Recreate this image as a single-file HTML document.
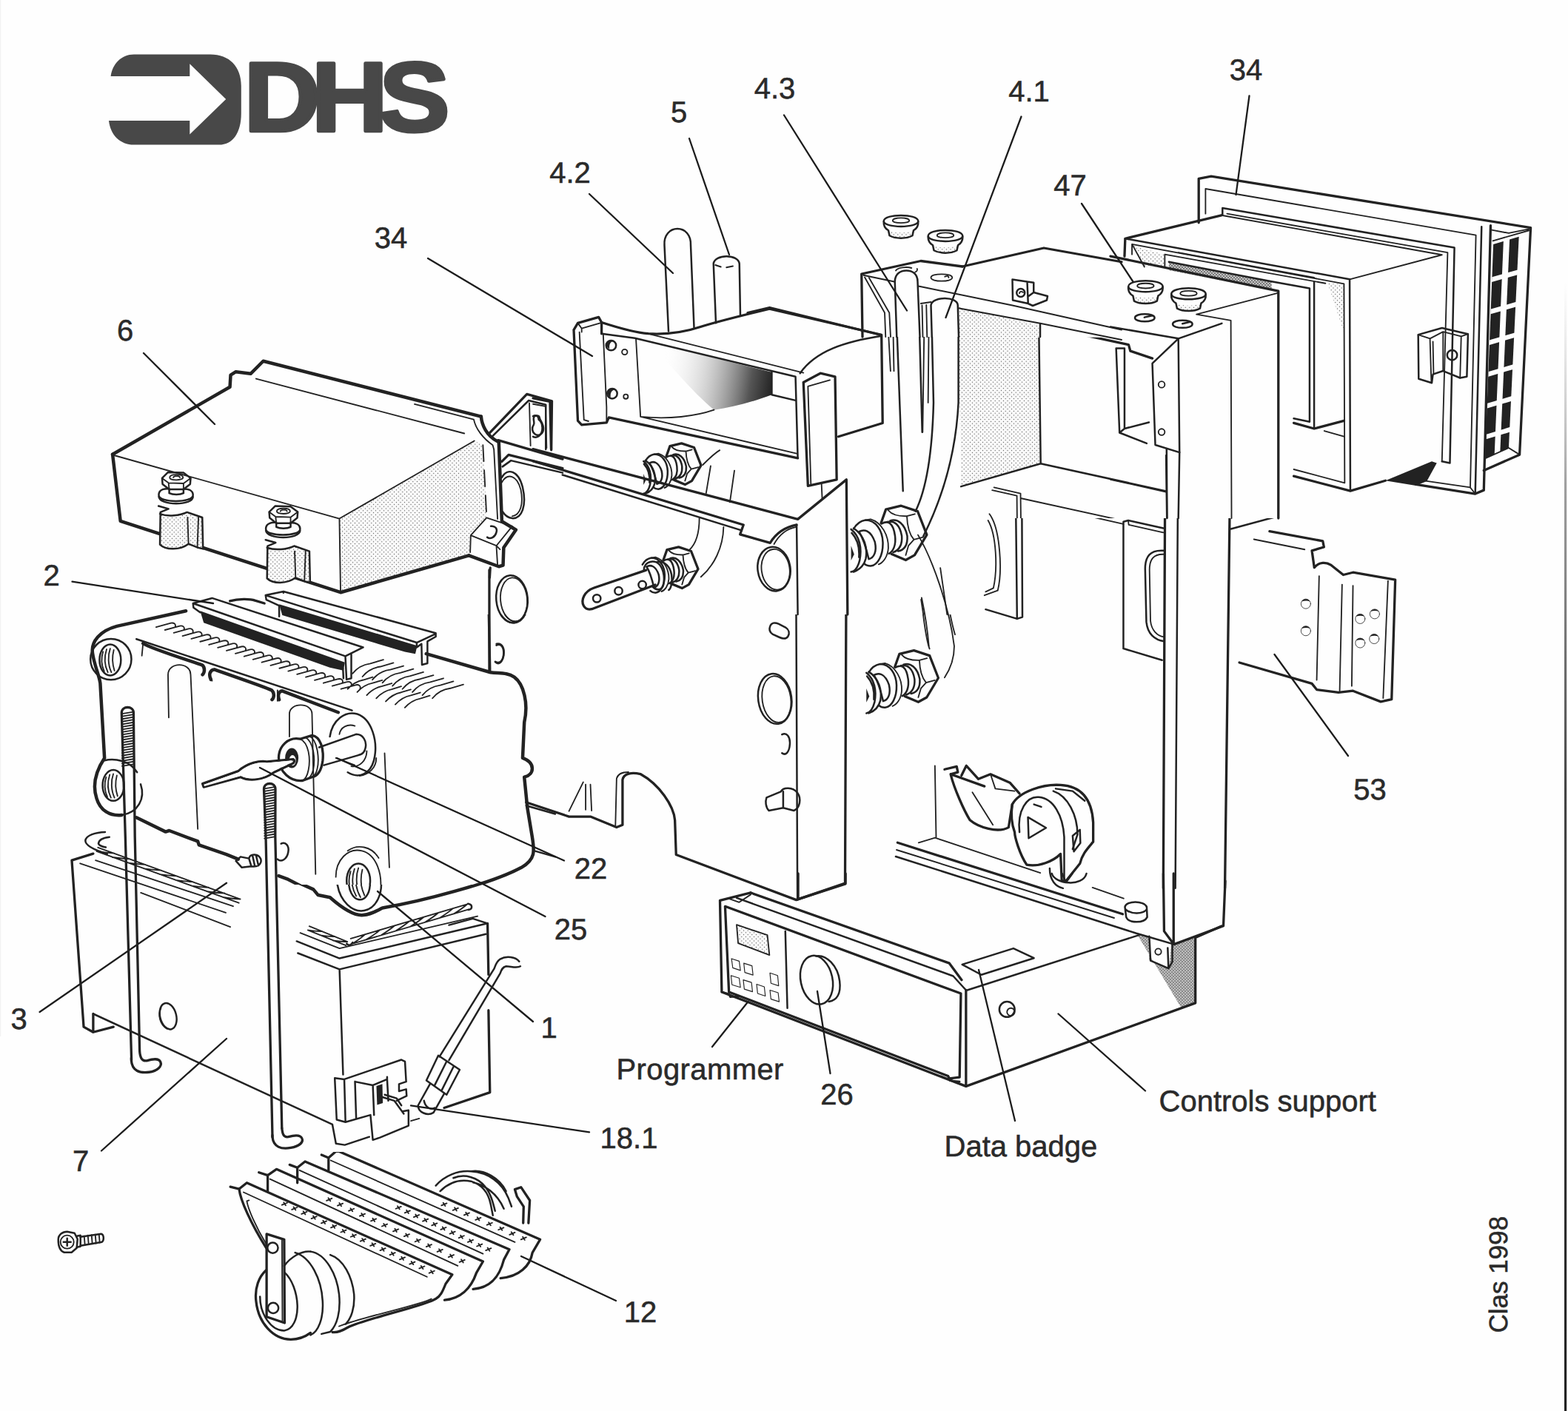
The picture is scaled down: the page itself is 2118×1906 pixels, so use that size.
<!DOCTYPE html>
<html lang="en"><head><meta charset="utf-8"><title>DHS exploded view</title>
<style>
html,body{margin:0;padding:0;background:#fefefe;}
body{width:2118px;height:1906px;overflow:hidden;position:relative;font-family:"Liberation Sans",sans-serif;}
svg{position:absolute;left:0;top:0;display:block}
.k,.kk,.m,.t,.h{fill:none;stroke:#222;stroke-linejoin:round;stroke-linecap:round;vector-effect:non-scaling-stroke}
.k{stroke-width:3.3}
.kk{stroke-width:4.5}
.m{stroke-width:2.5}
.t{stroke-width:1.85}
.h{stroke-width:1.1;stroke:#333}
.w{fill:#fefefe}
.s{fill:url(#dots)}
.s2{fill:url(#dots2)}
.b{fill:#222}
.g{fill:#555}
.ld{fill:none;stroke:#1c1c1c;stroke-width:2.3;stroke-linecap:round}
text{font-family:"Liberation Sans",sans-serif;fill:#2a2a2a;stroke:#2a2a2a;stroke-width:.55px;text-rendering:geometricPrecision}
.lb{font-size:37px;text-anchor:middle}
</style></head><body>
<svg width="2118" height="1906" viewBox="0 0 2118 1906">
<defs>
<pattern id="dots" width="5" height="5" patternUnits="userSpaceOnUse"><rect width="5" height="5" fill="#f4f4f4"/><circle cx="1.2" cy="1.2" r="0.75" fill="#555"/><circle cx="3.7" cy="3.7" r="0.75" fill="#555"/></pattern>
<pattern id="dots2" width="4" height="4" patternUnits="userSpaceOnUse"><rect width="4" height="4" fill="#e4e4e4"/><circle cx="1" cy="1" r="0.8" fill="#444"/><circle cx="3" cy="3" r="0.8" fill="#444"/></pattern>
<linearGradient id="edge" x1="0" y1="0" x2="0" y2="1"><stop offset="0" stop-color="#bbb" stop-opacity="0"/><stop offset="0.18" stop-color="#888" stop-opacity="0.8"/><stop offset="0.45" stop-color="#444"/><stop offset="1" stop-color="#222"/></linearGradient>
<pattern id="d1" width="5.6" height="5.6" patternUnits="userSpaceOnUse" patternTransform="scale(3.37)"><rect width="5.6" height="5.6" fill="#fafafa"/><circle cx="1.4" cy="1.4" r="0.62" fill="#4a4a4a"/><circle cx="4.2" cy="4.2" r="0.62" fill="#4a4a4a"/></pattern>
<pattern id="e1" width="4" height="4" patternUnits="userSpaceOnUse" patternTransform="scale(3.37)"><rect width="4" height="4" fill="#c4c4c4"/><circle cx="1" cy="1" r="0.9" fill="#555"/><circle cx="3" cy="3" r="0.9" fill="#555"/></pattern>
<clipPath id="cp1"><rect x="0" y="1556" width="2118" height="350"/></clipPath>
<pattern id="d2" width="5.6" height="5.6" patternUnits="userSpaceOnUse" patternTransform="scale(4.044)"><rect width="5.6" height="5.6" fill="#fafafa"/><circle cx="1.4" cy="1.4" r="0.62" fill="#4a4a4a"/><circle cx="4.2" cy="4.2" r="0.62" fill="#4a4a4a"/></pattern>
<pattern id="e2" width="4" height="4" patternUnits="userSpaceOnUse" patternTransform="scale(4.044)"><rect width="4" height="4" fill="#c4c4c4"/><circle cx="1" cy="1" r="0.9" fill="#555"/><circle cx="3" cy="3" r="0.9" fill="#555"/></pattern>
<pattern id="d3" width="5.6" height="5.6" patternUnits="userSpaceOnUse" patternTransform="scale(3.0636)"><rect width="5.6" height="5.6" fill="#fafafa"/><circle cx="1.4" cy="1.4" r="0.62" fill="#4a4a4a"/><circle cx="4.2" cy="4.2" r="0.62" fill="#4a4a4a"/></pattern>
<pattern id="e3" width="4" height="4" patternUnits="userSpaceOnUse" patternTransform="scale(3.0636)"><rect width="4" height="4" fill="#c4c4c4"/><circle cx="1" cy="1" r="0.9" fill="#555"/><circle cx="3" cy="3" r="0.9" fill="#555"/></pattern>
<clipPath id="cp3"><rect x="0" y="700" width="2118" height="1206"/></clipPath>
<pattern id="d4" width="5.6" height="5.6" patternUnits="userSpaceOnUse" patternTransform="scale(2.8886)"><rect width="5.6" height="5.6" fill="#fafafa"/><circle cx="1.4" cy="1.4" r="0.62" fill="#4a4a4a"/><circle cx="4.2" cy="4.2" r="0.62" fill="#4a4a4a"/></pattern>
<pattern id="e4" width="4" height="4" patternUnits="userSpaceOnUse" patternTransform="scale(2.8886)"><rect width="4" height="4" fill="#c4c4c4"/><circle cx="1" cy="1" r="0.9" fill="#555"/><circle cx="3" cy="3" r="0.9" fill="#555"/></pattern>
<pattern id="d5" width="5.6" height="5.6" patternUnits="userSpaceOnUse" patternTransform="scale(3.2718)"><rect width="5.6" height="5.6" fill="#fafafa"/><circle cx="1.4" cy="1.4" r="0.62" fill="#4a4a4a"/><circle cx="4.2" cy="4.2" r="0.62" fill="#4a4a4a"/></pattern>
<pattern id="e5" width="4" height="4" patternUnits="userSpaceOnUse" patternTransform="scale(3.2718)"><rect width="4" height="4" fill="#c4c4c4"/><circle cx="1" cy="1" r="0.9" fill="#555"/><circle cx="3" cy="3" r="0.9" fill="#555"/></pattern>
<pattern id="d6" width="5.6" height="5.6" patternUnits="userSpaceOnUse" patternTransform="scale(3.1108)"><rect width="5.6" height="5.6" fill="#fafafa"/><circle cx="1.4" cy="1.4" r="0.62" fill="#4a4a4a"/><circle cx="4.2" cy="4.2" r="0.62" fill="#4a4a4a"/></pattern>
<pattern id="e6" width="4" height="4" patternUnits="userSpaceOnUse" patternTransform="scale(3.1108)"><rect width="4" height="4" fill="#c4c4c4"/><circle cx="1" cy="1" r="0.9" fill="#555"/><circle cx="3" cy="3" r="0.9" fill="#555"/></pattern>
<clipPath id="cp6"><rect x="0" y="700" width="2118" height="495"/></clipPath>
<pattern id="d7" width="5.6" height="5.6" patternUnits="userSpaceOnUse" patternTransform="scale(3.1108)"><rect width="5.6" height="5.6" fill="#fafafa"/><circle cx="1.4" cy="1.4" r="0.62" fill="#4a4a4a"/><circle cx="4.2" cy="4.2" r="0.62" fill="#4a4a4a"/></pattern>
<pattern id="e7" width="4" height="4" patternUnits="userSpaceOnUse" patternTransform="scale(3.1108)"><rect width="4" height="4" fill="#c4c4c4"/><circle cx="1" cy="1" r="0.9" fill="#555"/><circle cx="3" cy="3" r="0.9" fill="#555"/></pattern>
<clipPath id="cp7"><rect x="0" y="830" width="2118" height="1076"/></clipPath>
<pattern id="d8" width="5.6" height="5.6" patternUnits="userSpaceOnUse" patternTransform="scale(3.1108)"><rect width="5.6" height="5.6" fill="#fafafa"/><circle cx="1.4" cy="1.4" r="0.62" fill="#4a4a4a"/><circle cx="4.2" cy="4.2" r="0.62" fill="#4a4a4a"/></pattern>
<pattern id="e8" width="4" height="4" patternUnits="userSpaceOnUse" patternTransform="scale(3.1108)"><rect width="4" height="4" fill="#c4c4c4"/><circle cx="1" cy="1" r="0.9" fill="#555"/><circle cx="3" cy="3" r="0.9" fill="#555"/></pattern>
<pattern id="d9" width="5.6" height="5.6" patternUnits="userSpaceOnUse" patternTransform="scale(6.065)"><rect width="5.6" height="5.6" fill="#fafafa"/><circle cx="1.4" cy="1.4" r="0.62" fill="#4a4a4a"/><circle cx="4.2" cy="4.2" r="0.62" fill="#4a4a4a"/></pattern>
<pattern id="e9" width="4" height="4" patternUnits="userSpaceOnUse" patternTransform="scale(6.065)"><rect width="4" height="4" fill="#c4c4c4"/><circle cx="1" cy="1" r="0.9" fill="#555"/><circle cx="3" cy="3" r="0.9" fill="#555"/></pattern>
<pattern id="d10" width="5.6" height="5.6" patternUnits="userSpaceOnUse" patternTransform="scale(4)"><rect width="5.6" height="5.6" fill="#fafafa"/><circle cx="1.4" cy="1.4" r="0.62" fill="#4a4a4a"/><circle cx="4.2" cy="4.2" r="0.62" fill="#4a4a4a"/></pattern>
<pattern id="e10" width="4" height="4" patternUnits="userSpaceOnUse" patternTransform="scale(4)"><rect width="4" height="4" fill="#c4c4c4"/><circle cx="1" cy="1" r="0.9" fill="#555"/><circle cx="3" cy="3" r="0.9" fill="#555"/></pattern>
<pattern id="d11" width="5.6" height="5.6" patternUnits="userSpaceOnUse" patternTransform="scale(4)"><rect width="5.6" height="5.6" fill="#fafafa"/><circle cx="1.4" cy="1.4" r="0.62" fill="#4a4a4a"/><circle cx="4.2" cy="4.2" r="0.62" fill="#4a4a4a"/></pattern>
<pattern id="e11" width="4" height="4" patternUnits="userSpaceOnUse" patternTransform="scale(4)"><rect width="4" height="4" fill="#c4c4c4"/><circle cx="1" cy="1" r="0.9" fill="#555"/><circle cx="3" cy="3" r="0.9" fill="#555"/></pattern>
<pattern id="d12" width="5.6" height="5.6" patternUnits="userSpaceOnUse" patternTransform="scale(3.2718)"><rect width="5.6" height="5.6" fill="#fafafa"/><circle cx="1.4" cy="1.4" r="0.62" fill="#4a4a4a"/><circle cx="4.2" cy="4.2" r="0.62" fill="#4a4a4a"/></pattern>
<pattern id="e12" width="4" height="4" patternUnits="userSpaceOnUse" patternTransform="scale(3.2718)"><rect width="4" height="4" fill="#c4c4c4"/><circle cx="1" cy="1" r="0.9" fill="#555"/><circle cx="3" cy="3" r="0.9" fill="#555"/></pattern>
<pattern id="d13" width="5.6" height="5.6" patternUnits="userSpaceOnUse" patternTransform="scale(3.1108)"><rect width="5.6" height="5.6" fill="#fafafa"/><circle cx="1.4" cy="1.4" r="0.62" fill="#4a4a4a"/><circle cx="4.2" cy="4.2" r="0.62" fill="#4a4a4a"/></pattern>
<pattern id="e13" width="4" height="4" patternUnits="userSpaceOnUse" patternTransform="scale(3.1108)"><rect width="4" height="4" fill="#c4c4c4"/><circle cx="1" cy="1" r="0.9" fill="#555"/><circle cx="3" cy="3" r="0.9" fill="#555"/></pattern>
</defs>
<!-- 00_base.svg -->
<defs>
<g id="nut">
<path class="k" d="M-33 -14.8 L-26.4 -33.4 L-5.8 -38.3 L16.5 -30.9 L28.9 0.8 L12.4 28.4 L0.4 35 L-19 26.8"/>
<path class="t" d="M-23 -32 C-19 -27 -11 -24 2 -24.3 L12.8 -27.2 M2 -24.3 C2.5 -10 6 1 11.5 7.4 L23.9 4.1 M11.5 7.4 L4.1 15.7 L0.4 28.4"/>
<path class="m" d="M-32.2 -14 C-23.9 -19 -16.5 -15.7 -14 2.5 C-12.4 14.8 -16.5 23.1 -22.3 26.4 M-24.7 -16.5 C-14.8 -19 -7.4 -12.4 -4.9 2.5 C-4.1 13.2 -8.2 21.4 -16.5 24.7 M-20.6 -18.1 C-10.7 -21.4 -0.8 -14 2.5 2.5 C3.3 14.8 -1.6 21.4 -9.9 23.1"/>
</g>
<g id="washer">
<path class="m" d="M-70 -7 C-66 -14 -60 -18 -54 -19 C-40 -19 -31 -5 -30.5 11 C-30 28 -37 42 -47 43 C-51 43 -54 41.5 -56 39.6"/>
<path class="m" d="M-62.7 -3.3 C-56 -7 -47 -6 -41.2 10.7 C-38.5 23 -42 32 -49.5 33.8 C-52 23 -56 7 -62.7 -3.3 Z"/>
<path class="t" d="M-53.6 -19 L-47 -20.2 C-32 -16 -22.5 2 -23.1 19 C-24 31 -30.5 39 -36.3 40.8"/>
</g>
<g id="spring">
<path class="m" d="M-73.4 -6.6 C-61.8 2.5 -58.5 19 -61.8 35.4 C-64.3 45.3 -68.4 50.3 -73.4 51.1 M-70 -8 C-55 2 -51 19 -53.5 33 C-56 43 -62 48 -70 51 M-72.5 -1.6 C-65 6.6 -61.8 19 -62.7 31.3"/>
<path class="b" d="M-73.4 15.7 L-69.2 27.2 L-73.4 35.4 Z"/>
</g>
<g id="bolt"><use href="#nut"/><use href="#washer"/><use href="#spring"/></g>
</defs>
<!-- right page edge line -->
<rect x="2113" y="380" width="3.2" height="1526" fill="url(#edge)"/>
<rect x="0" y="0" width="1.2" height="1400" fill="#ddd" opacity="0.35"/>
<!-- logo -->
<path fill="#484848" d="M149.6 103 C152 86 164 73.4 181 73.4 L284 73.4 C310 73.4 325.8 90 325.8 116 L325.8 153 C325.8 180 314 195.6 296 195.6 L181 195.6 C162 195.6 149 182 147 163 L256.3 163 L256.3 181.5 L305.2 133.9 L256.3 86.3 L256.3 103 Z"/>
<text transform="translate(329.5 176.6) scale(1.074 1)" x="0" y="0" style="font-size:133px;font-weight:bold;letter-spacing:-11px;fill:#484848;stroke:#484848;stroke-width:4.5px;stroke-linejoin:round">DHS</text>
<!-- vertical note -->
<text transform="translate(2036.4 1800.5) rotate(-90)" style="font-size:35px;fill:#2a2a2a">Clas 1998</text>
<!-- t_burner.svg -->
<g clip-path="url(#cp1)"><g transform="translate(280 1520) scale(0.296736)">
<!-- blades -->
<path class="k" d="M105 280 L145 290 L180 262 L1115 680 L1085 722 C1070 760 1060 780 1040 790 C1000 820 720 880 640 920 C615 935 590 945 570 942"/>
<path class="k" d="M145 290 C150 340 200 450 268 558"/>
<path class="t" d="M180 345 C185 380 220 460 268 540 M165 305 L1000 690 M180 345 L190 342"/>
<path class="k" d="M235 215 L275 228 L315 200 L1255 620 L1225 672 C1200 745 1150 790 1080 796 M275 228 L275 300"/>
<path class="t" d="M285 245 L1140 640"/>
<path class="k" d="M375 180 L410 193 L445 165 L1375 565 L1350 612 C1330 690 1290 740 1210 746 M410 193 L410 262"/>
<path class="t" d="M420 205 L1255 585"/>
<path class="k" d="M520 135 L552 148 L590 115 L1515 520 L1480 580 C1470 640 1420 690 1335 696 M552 148 L552 205"/>
<path class="t" d="M562 160 L1400 532"/>
<path class="t" d="M340 363 L364 353 M348 351 L357 365 M385 384 L409 374 M393 372 L402 386 M429 404 L453 394 M437 392 L446 406 M474 425 L498 415 M482 413 L491 427 M519 446 L543 436 M527 434 L536 448 M563 466 L587 456 M571 454 L580 468 M608 487 L632 477 M616 475 L625 489 M653 508 L677 498 M661 496 L670 510 M697 528 L721 518 M705 516 L714 530 M742 549 L766 539 M750 537 L759 551 M787 570 L811 560 M795 558 L804 572 M831 590 L855 580 M839 578 L848 592 M876 611 L900 601 M884 599 L893 613 M921 632 L945 622 M929 620 L938 634 M965 652 L989 642 M973 640 L982 654 M1010 673 L1034 663 M1018 661 L1027 675 M543 343 L567 333 M551 331 L560 345 M593 366 L617 356 M601 354 L610 368 M644 390 L668 380 M652 378 L661 392 M694 413 L718 403 M702 401 L711 415 M745 436 L769 426 M753 424 L762 438 M795 460 L819 450 M803 448 L812 462 M846 483 L870 473 M854 471 L862 485 M896 506 L920 496 M904 494 L913 508 M946 530 L970 520 M954 518 L963 532 M997 553 L1021 543 M1005 541 L1014 555 M1047 576 L1071 566 M1055 564 L1064 578 M1098 600 L1122 590 M1106 588 L1115 602 M1148 623 L1172 613 M1156 611 L1165 625 M858 380 L882 370 M866 368 L875 382 M899 399 L923 389 M907 387 L916 401 M940 418 L964 408 M948 406 L957 420 M981 437 L1005 427 M989 425 L998 439 M1022 456 L1046 446 M1030 444 L1039 458 M1063 475 L1087 465 M1071 463 L1080 477 M1104 494 L1128 484 M1112 482 L1121 496 M1145 513 L1169 503 M1153 501 L1162 515 M1186 532 L1210 522 M1194 520 L1203 534 M1227 551 L1251 541 M1235 539 L1244 553 M1268 570 L1292 560 M1276 558 L1285 572 M1066 365 L1090 355 M1074 353 L1083 367 M1118 387 L1142 377 M1126 375 L1135 389 M1169 409 L1193 399 M1177 397 L1186 411 M1221 431 L1245 421 M1229 419 L1238 433 M1273 454 L1297 444 M1281 442 L1290 456 M1325 476 L1349 466 M1333 464 L1342 478 M1376 498 L1400 488 M1384 486 L1393 500 M1428 520 L1452 510 M1436 508 L1445 522"/>
<path class="t" d="M600 915 C680 880 980 815 1020 790"/>
<!-- front venturi -->
<path class="k" d="M268 660 C235 690 215 740 222 800 C232 900 300 975 380 975 C420 975 450 960 470 945"/>
<path class="m" d="M350 640 C380 600 430 570 470 575 M240 780 C240 860 290 935 350 935 C390 930 412 880 410 820 C408 760 385 700 352 670"/>
<path class="m" d="M400 580 C470 600 520 700 525 800 C530 880 505 940 470 955 M470 575 C540 585 590 680 600 770 C608 850 590 910 560 940 L520 950 M560 590 C620 610 660 690 668 770 C672 830 655 880 630 905"/>
<path class="k" d="M270 495 L350 520 L352 900 L270 872 Z"/>
<path class="t" d="M340 525 L342 890"/>
<circle class="m" cx="298" cy="558" r="24"/><circle class="m" cx="300" cy="832" r="24"/>
<!-- back venturi -->
<path class="m" d="M1040 275 C1080 230 1140 205 1200 210 C1280 215 1340 260 1370 330 L1385 370 M1060 300 C1100 260 1150 245 1200 255 C1250 270 1280 310 1290 360 L1300 410 M1120 240 C1170 220 1230 235 1265 280 C1290 310 1300 350 1310 390 M1200 210 C1260 200 1330 240 1360 300 M1210 260 C1260 270 1320 310 1350 380"/>
<path class="k" d="M1400 292 L1428 282 L1468 342 L1462 445 M1400 292 L1410 325 L1440 370 L1438 445"/>
<!-- bracket/rod bottoms at top-left -->
</g></g>
<path class="ld" d="M704 1697 L832 1757"/>
<text class="lb" x="865" y="1786" style="font-size:40px">12</text>
<!-- t_casing_i.svg -->
<g transform="translate(1130 400) scale(0.24728)">
<defs><clipPath id="ci222"><rect x="640" y="225" width="1400" height="988"/></clipPath></defs>
<path fill="url(#d2)" d="M665 60 L1105 160 L1115 915 L680 1040 Z"/>
<g clip-path="url(#ci222)">
<path class="m" d="M1105 160 L1115 915 L1800 1065 M680 1040 L1115 915"/>
<path class="k" d="M1105 160 L1595 265 L1605 300 L1725 340"/>
<path class="t" d="M1010 1105 L1785 1275 M850 1060 L985 1090 L990 1618 M860 1045 L1005 1078 L1012 1618"/>
<path class="t" d="M835 1190 C880 1250 900 1400 880 1560 L870 1618 M850 1215 C880 1280 885 1420 870 1540"/>
<path class="m" d="M1570 1618 L1565 1240 L1595 1225 L1780 1275 M1595 1228 L1780 1292"/>
<path class="m" d="M1685 1618 L1685 1450 C1700 1400 1740 1385 1760 1385"/>
<path class="t" d="M1700 1618 L1700 1460 C1712 1420 1740 1405 1760 1402"/>
<path class="m" d="M1800 870 L1810 1618"/>
</g>
</g>
<!-- t_casing_r.svg -->
<g clip-path="url(#cp3)"><g transform="translate(1240 690) scale(0.326409)">
<!-- casing right front edges -->
<path class="k" d="M1022 0 L1015 1562"/>
<path class="m" d="M1075 0 L1065 1562"/>
<path class="k" d="M1290 0 L1270 1562"/>
<!-- back wall plates -->
<path class="m" d="M405 0 L410 447 M430 0 L432 440 L410 447 L280 408"/>
<path class="t" d="M300 20 C340 80 350 250 330 330 L275 350 M290 40 C325 100 330 240 312 320 L280 335"/>
<path class="m" d="M850 570 L850 45 L870 40 L1015 72 M850 570 L1010 618"/>
<path class="t" d="M870 40 L872 58 L1015 90 M610 0 L850 55"/>
<path class="m" d="M1018 165 C960 160 940 190 940 240 L945 460 C950 510 980 535 1018 540"/>
<path class="t" d="M1018 180 C975 178 958 200 958 245 L962 455 C966 495 990 518 1018 522"/>
<!-- pipes at left -->
<path class="t" d="M0 100 C60 200 130 400 150 560 C150 620 130 660 110 690 M15 360 C30 430 40 500 45 560"/>
<!-- part 53 -->
<path class="k" d="M1455 85 L1675 125 L1680 150 L1630 165 L1640 235 C1660 210 1690 212 1710 225 L1760 265 L1800 255 L1975 285 L1960 780 L1915 790 L1800 745 L1740 752 L1650 740 L1630 715 L1330 628"/>
<path class="m" d="M1295 75 L1480 25 L1480 0"/>
<path class="t" d="M1390 118 L1600 160 M1660 270 L1650 700 M1755 305 L1745 745 M1800 310 L1795 725 M1945 290 L1925 775 M1630 165 L1680 150"/>
<g class="m"><circle cx="1605" cy="385" r="20"/><circle cx="1605" cy="497" r="20"/><circle cx="1830" cy="447" r="20"/><circle cx="1890" cy="427" r="20"/><circle cx="1830" cy="547" r="20"/><circle cx="1888" cy="530" r="20"/></g>
<g class="b"><path d="M1588 375 C1595 362 1615 362 1622 375 C1610 370 1598 372 1588 375 Z"/><path d="M1588 487 C1595 474 1615 474 1622 487 C1610 482 1598 484 1588 487 Z"/><path d="M1813 437 C1820 424 1840 424 1847 437 C1835 432 1823 434 1813 437 Z"/><path d="M1873 417 C1880 404 1900 404 1907 417 C1895 412 1883 414 1873 417 Z"/><path d="M1813 537 C1820 524 1840 524 1847 537 C1835 532 1823 534 1813 537 Z"/><path d="M1871 520 C1878 507 1898 507 1905 520 C1893 515 1881 517 1871 520 Z"/></g>
<!-- valve -->
<path class="k" d="M110 1070 L160 1058 L165 1082 L135 1090 C150 1150 190 1240 215 1280 C250 1310 330 1335 375 1310 L390 1215 M200 1055 L250 1110 L300 1090 L380 1125 L420 1170 M135 1090 L275 1140 M180 1095 L200 1055"/>
<path class="t" d="M225 1165 L310 1300 M300 1090 L320 1150 L400 1160"/>
<path class="k" d="M390 1215 C420 1160 520 1130 590 1135 C680 1140 720 1200 725 1290 L725 1370 C700 1400 680 1420 670 1460 L610 1535 L595 1530 L590 1420 C560 1450 500 1475 450 1465 C420 1420 400 1350 400 1330 C385 1290 385 1250 390 1215 Z"/>
<path class="m" d="M420 1330 C410 1240 450 1180 500 1185 C560 1190 600 1260 605 1350 L605 1530 M560 1160 C620 1180 660 1260 660 1340 L640 1400 M570 1150 L640 1160 L690 1200"/>
<path class="m" d="M455 1268 L530 1312 L458 1355 Z M640 1345 L670 1320 L672 1375 L645 1410 Z M480 1215 L510 1225"/>
<path class="m" d="M545 1480 C545 1530 570 1555 600 1562"/>
<!-- casing bottom-left inner -->
<path class="t" d="M70 1055 L75 1350"/>
</g></g>
<path class="ld" d="M1721.5 884 L1821 1021"/>
<text class="lb" x="1850.5" y="1080" style="font-size:40px">53</text>
<!-- t_controls.svg -->
<g transform="translate(950 1180) scale(0.346192)">
<!-- shaded triangle -->
<path fill="url(#e4)" d="M1693 238 L1740 245 L1740 337 L1817 371 L1826 273 L1920 251 L1920 504 L1865 524 Z"/>
<path fill="url(#d4)" d="M130 200 L250 240 L258 318 L136 272 Z"/>
<!-- fascia -->
<path class="k" d="M185 75 L65 105 L72 462 L1025 830 L1025 455"/>
<path class="k" d="M185 75 L960 350 L1008 415"/>
<path class="m" d="M130 95 L975 400 L1025 455"/>
<path class="k" d="M85 128 L1005 468 L1000 795 L960 800 L955 790 L100 462 Z"/>
<path class="m" d="M72 462 L100 470 L105 482 L140 478 M955 790 L962 808 L1000 812"/>
<path class="m" d="M320 225 L328 525"/>
<path class="t" d="M130 200 L250 240 L258 318 L136 272 Z"/>
<!-- buttons -->
<g class="k">
<path d="M110 332 L140 342 L145 378 L115 368 Z"/><path d="M158 350 L190 360 L194 396 L162 386 Z"/>
<path d="M260 388 L290 398 L294 438 L264 428 Z"/>
<path d="M108 398 L140 408 L145 444 L112 434 Z"/><path d="M156 415 L188 425 L192 461 L160 451 Z"/>
<path d="M208 432 L238 442 L242 478 L212 468 Z"/><path d="M260 455 L292 465 L296 500 L264 490 Z"/>
</g>
<!-- knob -->
<ellipse class="m" cx="442" cy="415" rx="62" ry="96" transform="rotate(-12 442 415)"/>
<path class="m" d="M440 322 C480 315 525 360 532 420 C538 470 520 495 490 500"/>
<!-- support tray -->
<path class="m" d="M1030 455 L1700 240"/>
<path class="k" d="M1025 830 L1920 505 L1920 250 L2022 205"/>
<path class="m" d="M1010 355 L1210 292 L1290 330 L1085 395 Z"/>
<circle class="m" cx="1185" cy="530" r="30"/><circle class="t" cx="1200" cy="540" r="15"/>
<path class="m" d="M1740 245 L1745 340 L1815 370 L1830 345 L1830 275 M1815 370 L1812 290"/>
<circle class="t" cx="1775" cy="305" r="12"/>
<!-- casing bottom -->
<path class="k" d="M1795 0 L1798 225 L1835 275 L1835 0"/>
<path class="m" d="M1645 130 C1650 105 1720 105 1730 130 L1732 170 C1720 195 1660 195 1650 170 Z M1648 140 C1670 160 1715 158 1730 140"/>
<!-- panel bottom corner -->
<path class="k" d="M370 0 L370 100 L555 40 L555 0"/>
<path class="t" d="M100 98 L140 112 L185 82"/>
<path class="m" d="M1360 0 C1370 40 1480 55 1495 0 M1400 0 L1415 35 L1440 0"/>
</g>
<path class="ld" d="M1010.5 1353 L962 1414"/>
<path class="ld" d="M1104 1339 L1121.5 1450"/>
<path class="ld" d="M1322 1310 L1371 1514"/>
<path class="ld" d="M1429.5 1369.5 L1547 1473.5"/>
<text class="lb" x="1130.5" y="1491.5" style="font-size:40px">26</text>
<!-- casing floor edges (global) -->
<path class="k" d="M1212.4 1138.3 L1516.5 1234.8"/>
<path class="t" d="M1211 1148 L1505 1240"/>
<path class="m" d="M1210 1157 L1535 1260.7 L1585.8 1275.6"/>
<path class="t" d="M1240.8 1138.3 L1263.1 1131.7 L1405.2 1179.1 M1475.7 1198.9 L1517.8 1213.7"/>
<path class="k" d="M1655 1190 L1652.5 1250.8 L1585.8 1275.6"/>
<!-- t_duct.svg -->
<g transform="translate(720 330) scale(0.305638)">
<defs>
<linearGradient id="dg" gradientUnits="userSpaceOnUse" x1="560" y1="560" x2="1060" y2="640"><stop offset="0" stop-color="#fff" stop-opacity="0"/><stop offset="0.45" stop-color="#aaa" stop-opacity="0.6"/><stop offset="0.8" stop-color="#555"/><stop offset="1" stop-color="#222"/></linearGradient>
<clipPath id="cl409"><rect x="1380" y="409" width="700" height="1300"/></clipPath>
</defs>
<!-- duct interior gradient -->
<path fill="url(#dg)" d="M500 428 L1055 565 L1055 665 C960 700 880 720 800 732 C700 650 600 520 500 428 Z"/>
<!-- left bracket plate -->
<path class="k" d="M180 378 L198 348 L290 322 L303 345 L303 395 M180 378 L198 780 L215 798 L325 788 L335 765 L1170 945"/>
<path class="t" d="M198 348 L215 372 L300 347 M215 372 L215 388 M205 388 L225 776 L245 782 M310 395 L325 720 L325 788"/>
<circle class="m" cx="345" cy="447" r="22"/><circle class="m" cx="350" cy="660" r="22"/>
<path class="b" d="M325 440 C328 425 345 420 358 428 C345 428 335 440 338 462 C330 458 324 450 325 440 Z M330 655 C333 640 350 635 363 643 C350 643 340 655 343 677 C335 673 329 665 330 655 Z"/>
<circle class="t" cx="405" cy="476" r="12"/><circle class="t" cx="410" cy="673" r="10"/>
<!-- duct frame -->
<path class="m" d="M303 395 L450 415 L1160 585 L1170 945"/>
<path class="t" d="M455 420 L475 762 L1165 925 M475 762 C600 775 720 760 800 732"/>
<path class="m" d="M1055 565 L1055 665 L1160 690"/>
<path class="t" d="M520 398 L1195 568"/>
<!-- duct top -->
<path class="k" d="M303 345 C380 370 450 390 510 395 C600 400 680 385 740 365 C800 345 880 325 1045 285 L1540 400 L1545 790 L1350 850"/>
<path class="m" d="M1540 405 C1380 430 1250 470 1180 570"/>
<!-- right clip -->
<path class="k" d="M1195 610 L1270 570 L1335 585 L1342 1040 L1215 1068 Z"/>
<path class="t" d="M1215 628 L1312 600 M1215 628 L1228 1062"/>
<!-- casing top-left -->
<g clip-path="url(#cl409)">
<path class="k" d="M1450 400 L1458 125 L1720 70 L1900 95 M1900 95 L2022 68"/>
<path class="t" d="M1465 132 L1600 158 M1705 180 L2022 245 M1480 150 L1545 290 L1550 400 M1500 150 L1565 290 L1580 560 M1590 300 L1595 560"/>
<path class="m" d="M1635 1090 L1600 160 C1600 125 1625 108 1652 108 C1680 108 1702 125 1702 160 L1720 830"/>
<path class="t" d="M1605 118 C1620 102 1660 100 1680 106 M1790 148 C1790 128 1880 128 1880 148 C1880 168 1790 168 1790 148 Z"/>
<path class="m" d="M1760 260 C1762 240 1795 230 1820 230 C1850 230 1878 240 1880 262 L1880 700 C1870 900 1820 1100 1725 1290 M1760 260 L1770 700 C1765 900 1740 1080 1690 1180"/>
<path class="t" d="M1725 272 L1758 262 M1730 280 L1722 830 M1750 282 L1746 700"/>
</g>
<!-- panel top flange -->
<path class="k" d="M0 958 L930 1240 L915 1282 L1048 1320 C1075 1275 1115 1250 1165 1240"/>
<path class="k" d="M0 905 L1170 1215 L1385 1040 L1390 1636"/>
<path class="m" d="M1165 1240 L1170 1636"/>
<path class="m" d="M130 1019 L921 1264"/>
<path class="t" d="M1275 1060 L1278 1125 M1160 1250 C1120 1258 1090 1280 1065 1325"/>
<!-- keyhole bracket -->
<path class="k" d="M0 680 L75 695 L80 905"/>
<path class="t" d="M0 706 L55 716 L60 900"/>
<path class="m" d="M0 760 C10 752 25 758 25 775 C45 790 48 830 25 848 C10 858 0 850 0 850"/>
<!-- ellipse hole -->
<ellipse class="m" cx="1065" cy="1435" rx="72" ry="98" transform="rotate(-8 1065 1435)"/>
<ellipse class="t" cx="1072" cy="1437" rx="62" ry="90" transform="rotate(-8 1072 1437)"/>
<!-- strap -->
<path class="m" d="M490 1440 C490 1410 520 1395 545 1405 C575 1420 585 1470 575 1510 C565 1530 545 1530 530 1515 M545 1405 C575 1395 605 1420 612 1460 C617 1495 610 1520 600 1528"/>
<path class="k" d="M540 1505 L260 1612 C225 1620 210 1585 225 1555 C235 1535 250 1525 270 1518 L500 1440"/>
<circle class="m" cx="282" cy="1565" r="17"/><circle class="m" cx="378" cy="1532" r="17"/><circle class="m" cx="483" cy="1505" r="17"/>
<!-- pipes behind panel -->
<path class="t" d="M825 910 C800 925 775 950 750 975 M785 980 L765 1100 M890 1000 L870 1140 M735 1210 C735 1270 725 1320 690 1352 M842 1250 C840 1340 800 1420 742 1470"/>
<path class="t" d="M1800 1430 L1830 1636 M1715 1570 L1725 1636"/>
</g>
<path class="ld" d="M578 349 L800 481"/>
<use href="#bolt" transform="translate(1223 721.5)"/>
<use href="#bolt" transform="translate(925 628) scale(0.76)"/>
<g transform="translate(921 768) scale(0.76)"><use href="#nut"/><use href="#washer"/></g>
<!-- t_hx.svg -->
<g clip-path="url(#cp6)"><g transform="translate(100 770) scale(0.321464)">
<defs>
<g id="boss">
<path class="m" d="M-45 0 C-45 -36 -25 -65 0 -65 C25 -65 45 -36 45 0 C45 36 25 65 0 65 C-25 65 -45 36 -45 0 Z"/>
<path class="t" d="M-30 -35 C-38 -10 -38 20 -25 48 M-15 -45 C-25 -15 -25 20 -10 52 M0 -48 C-10 -20 -10 20 5 52 M15 -42 C8 -15 8 15 18 45"/>
</g>
</defs>
<!-- baffles: black undersides -->
<path class="b" d="M530 172 L1138 388 L1132 422 L1075 410 L545 222 Z"/>
<path class="b" d="M862 144 L1442 318 L1434 352 L1390 344 L875 190 Z"/>
<!-- outline of casting -->
<path class="kk" d="M470 172 L180 236 C110 255 70 300 78 350 C85 400 105 440 110 475 L128 790 C95 840 75 900 95 960 C110 1010 150 1035 200 1030"/>
<path class="kk" d="M262 1040 L385 1100 L400 1095 L520 1140 L525 1155 L640 1195 L690 1215 M860 1285 L900 1300 L1000 1352 L1010 1370 L1060 1385 C1110 1410 1150 1450 1210 1452 C1260 1452 1290 1420 1300 1418 C1500 1380 1750 1320 1880 1250 C1940 1215 1935 1180 1925 1120 L1905 1000 L1892 870 C1935 860 1940 810 1885 790 L1892 640 C1910 560 1890 480 1850 450 C1820 430 1790 435 1750 430 L1480 352"/>
<path class="k" d="M655 130 C690 120 740 120 760 128 L800 140"/>
<!-- front ledge -->
<path class="m" d="M262 290 L1168 590"/>
<path class="kk" d="M290 308 C320 330 500 385 540 400 C550 410 550 430 540 440 M575 460 C565 440 570 420 590 418 C650 440 800 490 830 505 C842 515 842 535 832 545 M862 545 C855 525 860 510 875 508 L1110 598"/>
<path class="t" d="M290 308 L285 360 M575 460 L580 465 M855 505 L855 550"/>
<!-- fins -->
<path class="t" d="M345 240 L407 223 C420 220 429 228 425 238 M382 252 L444 235 C457 232 466 240 462 250 M419 264 L481 247 C494 244 503 252 499 262 M456 277 L518 260 C531 257 540 265 536 275 M493 289 L555 272 C568 269 577 277 573 287 M530 301 L592 284 C605 281 614 289 610 299 M567 314 L629 297 C642 294 651 302 647 312 M604 326 L666 309 C679 306 688 314 684 324 M641 339 L703 322 C716 319 725 327 721 337 M678 351 L740 334 C753 331 762 339 758 349 M715 363 L777 346 C790 343 799 351 795 361 M752 376 L814 359 C827 356 836 364 832 374 M789 388 L851 371 C864 368 873 376 869 386 M826 401 L888 384 C901 381 910 389 906 399 M863 413 L925 396 C938 393 947 401 943 411 M900 425 L962 408 C975 405 984 413 980 423 M937 438 L999 421 C1012 418 1021 426 1017 436 M974 450 L1036 433 C1049 430 1058 438 1054 448 M1011 463 L1073 446 C1086 443 1095 451 1091 461 M1048 475 L1110 458 C1123 455 1132 463 1128 473 M1085 487 L1147 470 C1160 467 1169 475 1165 485 M1122 500 L1184 483 C1197 480 1206 488 1202 498 M1170 435 C1190 410 1215 397 1245 393 L1300 377 M1212 448 C1232 423 1257 410 1287 406 L1342 390 M1254 461 C1274 436 1299 423 1329 419 L1384 403 M1296 474 C1316 449 1341 436 1371 432 L1426 416 M1338 487 C1358 462 1383 449 1413 445 L1468 429 M1380 500 C1400 475 1425 462 1455 458 L1510 442 M1422 513 C1442 488 1467 475 1497 471 L1552 455 M1464 526 C1484 501 1509 488 1539 484 L1594 468 M1506 539 C1526 514 1551 501 1581 497 L1636 481 M1150 500 C1170 478 1190 467 1215 462 L1255 450 M1190 513 C1210 491 1230 480 1255 475 L1295 463 M1230 526 C1250 504 1270 493 1295 488 L1335 476 M1270 539 C1290 517 1310 506 1335 501 L1375 489 M1310 552 C1330 530 1350 519 1375 514 L1415 502 M1350 565 C1370 543 1390 532 1415 527 L1455 515 M1390 578 C1410 556 1430 545 1455 540 L1495 528"/>
<!-- baffles -->
<path class="m" d="M500 140 L580 118 L1215 325 L1140 362 Z M500 140 L502 158 L530 178 M1140 362 L1145 460 L1165 455 L1165 350 M1130 412 L1132 455"/>
<path class="m" d="M805 106 L880 90 L1520 265 L1520 280 L1485 300 L1485 392 L1462 398 L1460 310 L1440 325 M805 106 L808 125 L862 150 L862 195 M880 90 L880 96 M1440 325 L1440 305 L1520 268 M805 106 L1440 305"/>
<!-- slots -->
<path class="t" d="M398 620 L395 440 C395 385 490 385 490 440 L520 1088 M905 700 L905 605 C905 555 1000 555 1000 605 L1015 1278 M1305 770 L1325 1250"/>
<!-- bosses -->
<circle class="m" cx="155" cy="375" r="86"/><use href="#boss" x="152" y="378"/>
<path class="m" d="M128 800 C170 790 235 800 265 850 M280 900 C300 960 270 1020 200 1030"/>
<use href="#boss" x="165" y="905"/>
<path class="m" d="M1075 700 C1085 630 1140 590 1190 605 C1250 625 1280 720 1260 800 C1245 855 1200 880 1150 850"/>
<path class="t" d="M1115 690 C1120 660 1150 645 1180 655 M1230 760 C1230 800 1200 830 1165 825 M1270 790 C1270 830 1240 860 1200 865"/>
<path class="t" d="M1100 1290 C1100 1220 1150 1165 1210 1180 C1270 1195 1300 1280 1285 1360 C1275 1420 1230 1450 1190 1440 M1150 1180 C1190 1150 1250 1160 1280 1210"/>
<use href="#boss" transform="translate(1195 1305) scale(1.1)"/>
<!-- plug + screwdriver -->
<path class="m" d="M1030 745 L1185 690 C1215 690 1230 720 1225 745 C1222 765 1210 775 1195 778 L1050 820"/>
<path class="t" d="M1100 790 L1180 820"/>
<path class="k" d="M860 790 C860 740 900 700 950 710 L1000 695 C1035 700 1050 750 1045 800 C1040 840 1025 865 1000 870 L960 885 C910 890 862 850 860 790 Z"/>
<path class="t" d="M950 710 C985 725 995 790 985 840 C980 865 970 880 960 885 M972 703 C1005 720 1015 790 1005 840 C1000 860 992 872 982 878 M990 698 C1022 715 1032 790 1022 835 C1018 855 1010 865 1000 870"/>
<ellipse class="b" cx="915" cy="790" rx="28" ry="42"/>
<ellipse cx="918" cy="800" rx="14" ry="22" fill="#fefefe"/>
<path class="k" d="M540 898 L690 845 C730 810 780 800 810 805 L920 795 C930 800 925 812 915 815 L840 850 C800 880 740 890 700 870 L545 912 Z"/>
<path fill="#fefefe" d="M545 902 L692 850 C730 815 780 805 810 810 L915 800 L912 810 L836 846 C800 876 740 885 702 865 L548 908 Z"/>
<!-- threaded rods -->
<path class="t" d="M202 604 L250 596 M202 615 L250 607 M202 626 L250 618 M202 637 L250 629 M202 648 L250 640 M202 659 L250 651 M202 670 L250 662 M202 681 L250 673 M202 692 L250 684 M202 703 L250 695 M202 714 L250 706 M202 725 L250 717 M202 736 L250 728 M202 747 L250 739 M202 758 L250 750 M202 769 L250 761 M202 780 L250 772 M202 791 L250 783 M202 802 L250 794 M202 813 L250 805 M202 824 L250 816"/>
<path class="t" d="M800 919 L846 911 M800 930 L846 922 M800 941 L846 933 M800 952 L846 944 M800 963 L846 955 M800 974 L846 966 M800 985 L846 977 M800 996 L846 988 M800 1007 L846 999 M800 1018 L846 1010 M800 1029 L846 1021 M800 1040 L846 1032 M800 1051 L846 1043 M800 1062 L846 1054 M800 1073 L846 1065 M800 1084 L846 1076 M800 1095 L846 1087 M800 1106 L846 1098 M800 1117 L846 1109 M800 1128 L846 1120"/>
<!-- small nipple (3) -->
<path class="m" d="M680 1222 L700 1205 L735 1212 C740 1190 775 1190 785 1215 C790 1235 770 1250 745 1245 L705 1250 Z M735 1212 L745 1245 M750 1200 L760 1245 M765 1200 L775 1242"/>
<path class="m" d="M870 1150 C890 1140 905 1160 900 1185 C895 1215 870 1230 855 1215"/>
<!-- part 6 bottom bits at top -->
<path class="k" d="M1745 0 L1745 430"/>
<ellipse class="m" cx="1840" cy="122" rx="66" ry="100" transform="rotate(-5 1840 122)"/>
<ellipse class="t" cx="1848" cy="124" rx="56" ry="92" transform="rotate(-5 1848 124)"/>
<path class="m" d="M1775 310 C1800 305 1810 330 1805 360 C1800 385 1785 395 1770 385"/>
<!-- right side lines (panel bottom) -->
<path class="m" d="M1900 990 L2022 1025 M1935 1180 L2022 1205"/>
</g></g>
<path class="ld" d="M97.5 785.7 L288 815"/>
<path class="ld" d="M455 1024 L762 1162.5"/>
<path class="ld" d="M351 1037 L736.5 1238"/>
<path class="ld" d="M510 1204 L720 1380"/>
<path class="ld" d="M306 1192.7 L53.6 1367"/>
<!-- rods (global) -->
<path class="k" d="M177.6 1432 L169.3 1130 L164.3 963 C164.3 953 180.4 953 180.4 963 L182.2 1130 L188.6 1419"/>
<path class="k" d="M368 1536 L359 1130 L356.5 1066 C356.5 1056 372 1056 372 1066 L371.8 1130 L380.8 1524"/>
<!-- t_panel.svg -->
<g clip-path="url(#cp7)"><g transform="translate(640 780) scale(0.321464)">
<!-- panel edges -->
<path class="k" d="M60 0 L68 395"/>
<path class="k" d="M220 945 L400 1005 L490 1005 L600 1050 L625 1040 L625 850 C630 822 665 818 700 826 C780 870 840 960 845 1020 L850 1165 L1355 1355 L1560 1285 L1565 0"/>
<path class="m" d="M1354 0 L1360 1355"/>
<path class="t" d="M595 1045 L600 845 C605 825 625 818 650 818 M400 982 L460 860 M470 870 L470 976 M490 870 L495 980"/>
<!-- holes -->
<ellipse class="m" cx="160" cy="95" rx="66" ry="96" transform="rotate(-8 160 95)"/>
<ellipse class="t" cx="168" cy="97" rx="57" ry="88" transform="rotate(-8 168 97)"/>
<path class="m" d="M95 285 C115 275 128 295 125 325 C122 355 105 370 90 355"/>
<path class="m" d="M1215 0 C1225 50 1260 85 1295 80 C1325 75 1338 40 1335 0"/>
<path class="m" d="M1245 205 C1250 190 1265 188 1280 195 L1310 210 C1325 220 1328 235 1320 248 C1312 260 1298 258 1285 252 L1255 238 C1243 230 1240 218 1245 205 Z"/>
<ellipse class="m" cx="1265" cy="510" rx="70" ry="106" transform="rotate(-8 1265 510)"/>
<ellipse class="t" cx="1272" cy="512" rx="60" ry="98" transform="rotate(-8 1272 512)"/>
<path class="m" d="M1295 660 C1315 650 1330 670 1328 700 C1326 735 1310 750 1295 738"/>
<path class="m" d="M1230 925 L1290 900 C1300 880 1340 880 1360 905 C1378 930 1370 970 1345 980 L1300 968 L1240 980 C1225 965 1225 940 1230 925 Z M1300 900 L1300 968"/>
<!-- casing lower-left bits -->
<path class="t" d="M1880 85 C1890 180 1900 260 1915 300 M1975 0 C1990 100 2010 200 2022 240"/>
</g></g>
<use href="#bolt" transform="translate(1240 915) scale(0.95)"/>
<text class="lb" x="798" y="1186.5" style="font-size:40px">22</text>
<text class="lb" x="771" y="1268.5" style="font-size:40px">25</text>
<!-- t_part6.svg -->
<g transform="translate(100 400) scale(0.321464)">
<defs>
<g id="b6">
<path fill="url(#d8)" d="M-64 145 C-30 158 20 152 50 138 L114 160 L117 292 L93 286 L56 271 C20 298 -40 298 -64 274 Z"/>
<path class="m" d="M-55 -5 L-30 -30 L35 -28 L65 -5 L63 20 L35 42 L-25 42 L-53 20 Z"/>
<path class="t" d="M-55 -5 L-28 15 L35 17 L65 -5 M-28 15 L-25 42 M35 17 L35 42"/>
<path class="t" d="M-23 -8 C-23 -24 33 -24 33 -8 C33 6 -23 6 -23 -8 Z M-8 -8 C-5 -16 18 -16 20 -8"/>
<path class="m" d="M-25 42 L-25 58 C-10 66 20 66 35 58 L35 42"/>
<path class="m" d="M-69 66 C-69 40 -40 38 -25 40 M35 40 C60 40 75 50 75 66 C75 100 -69 100 -69 66 M-69 72 C-66 112 75 112 75 72"/>
<path class="m" d="M-70 112 L-28 124 L-62 138 L-64 274 C-40 298 20 298 56 271 L93 286 L117 292 L114 160 L50 138 C20 152 -30 158 -64 145"/>
<path class="t" d="M56 271 L52 160 M93 286 L98 158"/>
</g>
</defs>
<path fill="url(#d8)" d="M1115 935 L1682 608 L1718 626 L1734 928 L1667 1005 L1664 1090 L1120 1245 Z"/>
<path class="kk" d="M162 665 L655 382 L658 332 L680 318 L742 326 L795 273 L1710 506"/>
<path class="kk" d="M162 665 L195 945 L1120 1245 L1659 1090"/>
<path class="t" d="M765 347 L1640 577 M165 668 L1115 935 L1120 1245 M1115 935 L1682 608"/>
<use href="#b6" x="425" y="770"/>
<use href="#b6" x="875" y="912"/>
</g>
<g transform="translate(560 480) scale(0.16488)">
<!-- flange of part 6 -->
<path class="kk" d="M545 500 C550 570 590 660 680 705 L690 712 L715 1360 L830 1430 L730 1575 L725 1720 L690 1730 L445 1640"/>
<path class="t" d="M0 400 L485 525 C500 600 560 680 640 735 L650 770 L680 1340"/>
<path class="t" d="M590 1330 L800 1400 L670 1560 L460 1475 Z M800 1400 L830 1430 M670 1560 L700 1590 M670 1560 L680 1720"/>
<path class="t" stroke-dasharray="22 12" d="M560 735 L590 1320 M460 1480 L455 1635"/>
<path class="m" d="M625 1400 C660 1395 680 1420 670 1450 C660 1490 620 1510 595 1490"/>
<!-- panel top-left bracket -->
<path class="k" d="M610 640 L920 318 L1125 375 L1120 775"/>
<path class="m" d="M640 660 L935 370 L1075 405 L1075 770"/>
<path class="t" d="M940 390 L950 740"/>
<path class="m" d="M975 520 C975 490 1020 485 1025 515 C1028 535 1060 560 1055 610 C1050 650 1010 665 985 645 C960 625 960 590 975 570 C985 555 975 540 975 520 Z"/>
<path class="k" d="M685 695 L1213 850"/>
<path class="k" d="M715 870 L770 815 L1213 925"/>
<path class="m" d="M720 912 L790 862 L1213 962"/>
<path class="m" d="M715 1000 C760 920 850 940 885 1080 C920 1230 880 1340 800 1335 C770 1333 740 1310 720 1280"/>
<path class="t" d="M715 1040 C760 960 840 980 870 1100 C895 1220 865 1310 800 1318"/>
<path class="k" d="M620 1740 L615 1820"/>
</g>
<path class="ld" d="M194 477 L290 573"/>
<text class="lb" x="169" y="459.5" style="font-size:40px">6</text>
<!-- t_r0c1.svg -->
<g transform="translate(505 0) scale(0.25)">
<!-- tube 4.2 -->
<path class="m" d="M1592 1790 L1570 1325 C1566 1270 1600 1236 1640 1236 C1682 1236 1714 1270 1712 1325 L1730 1770"/>
<!-- tube 5 -->
<path class="m" d="M1848 1745 L1835 1425 C1838 1400 1870 1385 1905 1385 C1942 1385 1972 1400 1975 1425 L1980 1705"/>
<path class="t" d="M1845 1432 L1875 1442 M1905 1445 L1940 1438"/>
</g>
<path class="ld" d="M931 187 L985 344"/>
<path class="ld" d="M796 262 L909 369"/>
<text class="lb" x="917" y="164.5" style="font-size:40px">5</text>
<text class="lb" x="770" y="247" style="font-size:40px">4.2</text>
<text class="lb" x="528" y="335" style="font-size:40px">34</text>
<!-- t_r0c2.svg -->
<g transform="translate(1010 0) scale(0.25)">
<!-- grommets -->
<defs><g id="grom">
<path fill="url(#d11)" d="M-68 50 C-40 66 40 66 68 50 L62 78 C30 94 -30 94 -62 78 Z"/>
<path class="m" d="M-93 0 C-93 -42 93 -42 93 0 C93 38 -93 38 -93 0 Z"/>
<path class="t" d="M-45 -3 C-45 -22 45 -22 45 -3 C45 14 -45 14 -45 -3 Z"/>
<path class="m" d="M-93 2 C-95 25 -85 40 -68 50 L-62 78 C-30 96 30 96 62 78 L68 50 C85 40 95 25 93 2"/>
</g></defs>
<use href="#grom" x="828" y="1195"/>
<use href="#grom" x="1068" y="1275"/>
<!-- casing top -->
<path class="k" d="M620 1820 L615 1480 L935 1410 L1160 1440"/>
<path class="k" d="M1160 1440 L1600 1340 L2020 1415"/>
<path class="t" d="M625 1487 L792 1522 M922 1546 L1430 1650 L2020 1782"/>
<path class="t" d="M1138 1665 L1585 1748 L2020 1836"/>
<path class="m" d="M1580 1750 L1580 1820"/>
<path class="t" d="M632 1498 L740 1690 L745 1820 M655 1500 L765 1690 L772 1820"/>
<!-- tube 4.3 -->
<path class="m" d="M805 1820 L795 1522 C795 1480 825 1462 857 1462 C890 1462 918 1480 918 1522 L930 1820"/>
<path class="t" d="M800 1462 C810 1445 860 1440 885 1448 M905 1470 C915 1465 918 1458 915 1452"/>
<!-- tube 4.1 -->
<path class="m" d="M995 1820 L990 1650 C992 1625 1030 1612 1065 1612 C1100 1612 1135 1625 1135 1650 L1140 1820"/>
<path class="t" d="M942 1650 L946 1820 M965 1648 L969 1820 M935 1640 L990 1632"/>
<!-- hole on top -->
<path class="t" d="M990 1500 C990 1475 1105 1475 1105 1500 C1105 1525 990 1525 990 1500 Z M1065 1495 C1075 1488 1088 1492 1085 1500"/>
<!-- small L bracket -->
<path class="m" d="M1430 1510 L1510 1522 L1515 1640 L1432 1622 Z M1510 1522 L1545 1527 L1545 1580 L1620 1600 L1616 1622 L1540 1652 L1515 1640 M1515 1602 L1545 1580"/>
<circle class="m" cx="1475" cy="1582" r="22"/>
<path class="t" d="M1468 1585 C1468 1575 1482 1572 1488 1580"/>
<!-- duct (left 34) top edge -->
<path class="k" d="M0 1690 L118 1662 L720 1810"/>
</g>
<path class="ld" d="M1059 155.5 L1225 419.5"/>
<path class="ld" d="M1379.5 157.5 L1277.5 429"/>
<text class="lb" x="1046.5" y="132.5" style="font-size:40px">4.3</text>
<text class="lb" x="1390" y="136.5" style="font-size:40px">4.1</text>
<text class="lb" x="1445.5" y="264" style="font-size:40px">47</text>
<!-- t_terminal.svg -->
<g transform="translate(1500 200) scale(0.305638)">
<!-- grille black field -->
<path class="b" d="M1692 425 L1805 392 L1760 1325 L1655 1372 Z"/>
<g fill="#fefefe" stroke="none">
<path d="M1737 408 L1764 401 L1722 1345 L1697 1355 Z"/>
<path d="M1686 570 L1800 538 L1799 560 L1685 592 Z"/>
<path d="M1681 712 L1793 680 L1792 702 L1680 734 Z"/>
<path d="M1676 848 L1787 816 L1786 838 L1675 870 Z"/>
<path d="M1671 988 L1780 956 L1779 978 L1670 1010 Z"/>
<path d="M1666 1128 L1774 1096 L1773 1118 L1665 1150 Z"/>
<path d="M1661 1265 L1767 1233 L1766 1255 L1660 1287 Z"/>
</g>
<!-- shadow under box -->
<path class="b" d="M1215 1470 L1420 1385 L1442 1392 L1398 1472 L1350 1492 Z"/>
<!-- shaded bits -->
<path fill="url(#d12)" d="M98 430 L240 472 L240 525 L150 525 Z"/>
<path fill="url(#d12)" d="M960 598 L1032 602 L1032 815 Z"/>
<path fill="url(#e12)" d="M258 503 L712 590 L712 628 L258 540 Z"/>
<!-- wall plate -->
<path class="k" d="M390 330 L390 135 L445 125 L1857 352 L1808 1355 L1650 1425"/>
<path class="t" d="M420 290 L420 180 L1615 385 L1590 1500"/>
<path class="m" d="M1640 348 L1612 1528"/>
<path class="k" d="M1680 342 L1650 1512 L1612 1528 L1350 1487"/>
<path class="t" d="M1370 1468 L1590 1500 L1612 1528"/>
<path class="t" d="M1685 362 L1760 376 L1850 358 M1690 410 L1850 364 M1655 1372 L1760 1325 L1808 1355"/>
<!-- inner frame 2 -->
<path class="m" d="M495 295 L495 265 L1520 440 L1500 1392 L1465 1385"/>
<path class="t" d="M515 290 L1490 462 L1465 1385"/>
<!-- duct box -->
<path class="k" d="M62 478 L65 400 L490 297"/>
<path class="t" d="M490 297 L1465 472 L1057 580"/>
<path class="m" d="M65 400 L1057 580 L1060 1515"/>
<path class="k" d="M810 1450 L1060 1515 L1215 1470"/>
<path class="t" d="M95 470 L95 425 L1032 600 L1035 1480 L810 1420"/>
<path class="t" d="M98 430 L150 525"/>
<!-- inner duct -->
<path class="t" d="M240 525 L240 470 L950 598 M300 462 L900 572"/>
<path class="m" d="M258 503 L712 590 L880 620 L880 1210 L810 1195"/>
<path class="m" d="M900 592 L900 1238"/>
<path class="k" d="M810 1215 L900 1240 L1032 1205"/>
<path class="t" d="M945 1250 L1032 1275"/>
<!-- casing corner -->
<path class="k" d="M0 478 L742 632 L742 1636"/>
<path class="t" d="M380 735 L742 640 M380 735 L532 762 L535 1636"/>
<path class="m" d="M0 790 L300 842 L492 775"/>
<path class="m" d="M300 842 L185 952 L198 1312 L305 1345 Z"/>
<path class="m" d="M248 1332 L250 1636 M305 1345 L300 1636"/>
<circle class="t" cx="226" cy="1045" r="14"/><circle class="t" cx="226" cy="1255" r="14"/>
<path class="m" d="M25 885 L62 885 L62 1240 L170 1212 M25 885 L40 1258 L160 1305 M62 1240 L40 1258"/>
<path class="t" d="M0 1465 L245 1520"/>
<!-- top holes -->
<path class="m" d="M108 750 C108 728 195 728 195 750 C195 772 108 772 108 750 Z M150 748 L185 740"/>
<path class="m" d="M275 778 C275 756 362 756 362 778 C362 800 275 800 275 778 Z M318 776 L352 768"/>
<!-- clip -->
<path class="m" d="M1360 825 L1465 795 L1580 822 L1575 1010 L1545 1016 L1470 985 L1425 1000 L1420 1038 L1362 1020 Z"/>
<path class="t" d="M1360 825 L1412 842 L1418 1035 M1412 842 L1470 812 L1470 985 M1425 855 L1428 1000 M1470 812 L1550 832 L1545 1016 M1550 832 L1580 822"/>
<circle class="m" cx="1510" cy="915" r="22"/>
<use href="#grom" transform="translate(155 612) scale(0.818)"/>
<use href="#grom" transform="translate(345 645) scale(0.818)"/>
</g>
<path class="ld" d="M1687.5 129.5 L1669.5 263"/>
<path class="ld" d="M1461 275 L1530.5 380.5"/>
<text class="lb" x="1683" y="107.5" style="font-size:40px">34</text>
<!-- t_tray.svg -->
<g transform="translate(60 1130) scale(0.321464)">
<defs><clipPath id="tr202"><rect x="0" y="202" width="2100" height="1500"/></clipPath></defs>
<!-- tray left/front -->
<path class="k" d="M205 72 L115 100 L165 800 L205 822 L290 800 M205 822 L205 745"/>
<path class="m" d="M205 745 L1210 1210 L1225 1290 L1262 1296 L1365 1262"/>
<path class="t" d="M150 113 L762 320 M215 100 L793 293 M405 236 L781 380"/>
<path class="m" d="M255 -19 C215 -18 175 -5 172 17 C172 40 215 58 264 73 M273 2 C245 5 228 15 227 30 C232 40 245 43 258 45"/>
<path class="t" d="M219 62 L817 279 M225 46 L823 263 M219 62 Q263 69 292 70 M285 87 Q329 93 358 94 M352 111 Q396 117 424 118 M418 135 Q462 141 491 142 M485 159 Q529 165 557 166 M551 183 Q595 189 624 190 M618 207 Q661 213 690 214 M684 231 Q728 238 757 238 M750 255 Q794 262 823 263"/>
<!-- right box portion -->
<path class="m" d="M1060 440 L1240 512 L1862 365 L1800 345 L1700 372 M1065 490 L1240 558 L1255 1000 M1240 558 L1855 410"/>
<path class="k" d="M1862 365 L1866 580 M1866 730 L1872 1075 L1680 1140"/>
<path class="t" d="M1075 405 L1240 470 L1820 335"/>
<path class="t" d="M1293 451 L1783 306 M1287 429 L1777 284 M1293 451 Q1328 429 1348 411 M1354 432 Q1390 411 1409 393 M1416 414 Q1451 392 1471 375 M1477 396 Q1512 374 1532 357 M1538 378 Q1573 356 1593 339 M1599 360 Q1635 338 1654 321 M1661 342 Q1696 320 1716 303 M1722 324 Q1757 302 1777 284"/>
<path class="t" d="M1107 393 L1267 458 M1113 377 L1273 442 M1107 393 Q1144 399 1167 398 M1160 415 Q1197 421 1220 420 M1213 437 Q1251 442 1273 442"/>
<path class="m" d="M1270 450 C1280 462 1290 455 1295 445 M1780 282 C1800 285 1800 305 1782 308"/>
<!-- rods -->
<path class="k" d="M365 930 L365 940 C368 985 400 995 440 990 C475 985 495 965 488 948 C480 930 455 935 430 942 C410 945 402 930 400 900"/>
<path class="k" d="M958 1255 L958 1262 C962 1305 995 1315 1035 1308 C1070 1302 1090 1285 1082 1268 C1075 1252 1050 1255 1025 1262 C1005 1265 1000 1250 998 1225"/>
<!-- hole -->
<ellipse class="m" cx="520" cy="755" rx="34" ry="56" transform="rotate(-14 520 755)"/>
<path class="t" d="M490 720 C475 750 485 790 515 808"/>
<g clip-path="url(#tr202)">
<!-- hx bottom outline + boss -->
<path class="kk" d="M600 0 L650 20 L660 42 L800 100 M1000 172 L1040 182 L1130 222 L1150 246 L1200 256 C1250 300 1300 335 1340 330 C1380 325 1400 310 1420 300 C1600 270 1850 200 2022 130"/>
<ellipse class="m" cx="1322" cy="188" rx="92" ry="125" transform="rotate(-10 1322 188)"/>
<path class="m" d="M1278 185 C1278 140 1300 115 1325 115 C1355 118 1372 160 1368 205 C1365 245 1345 268 1322 265 C1295 262 1278 225 1278 185 Z"/>
<path class="t" d="M1295 135 C1285 165 1290 215 1310 250 M1312 125 C1302 160 1305 215 1328 255 M1330 122 C1322 160 1328 210 1345 248 M1290 50 C1330 30 1390 60 1410 110"/>
<path class="t" d="M1135 0 L1140 150 M1440 0 L1448 130"/>
<!-- nipple -->
<path class="m" d="M800 100 L820 80 L850 88 C855 68 890 68 900 90 C905 110 885 125 860 120 L825 128 Z M850 88 L860 120 M866 76 L876 120 M882 76 L890 116"/>
<path class="m" d="M985 50 C1005 40 1025 60 1020 85 C1015 105 995 110 985 100 M990 40 C1010 25 1030 35 1030 55"/>
</g>
<!-- electrode bracket -->
<path class="m" d="M1220 1015 L1228 1190 L1265 1200 L1370 1170 L1380 1275 L1410 1265 L1530 1215 L1530 1150 L1505 1155 M1220 1015 L1260 1020 L1500 938 L1515 945 L1520 1030 L1490 1040 L1490 1070 L1520 1062 L1522 1090 L1480 1110 M1260 1020 L1265 1200 M1305 1030 L1380 1045 L1385 1170 M1305 1030 L1310 1185 M1380 1045 L1440 1020 L1445 1110 M1440 1020 L1440 1010"/>
<path class="b" d="M1395 1048 L1420 1040 L1422 1120 L1398 1128 Z"/>
<path class="m" d="M1420 1095 L1470 1110 L1510 1165 M1430 1085 L1480 1100 L1500 1130"/>
<!-- probe 18.1 -->
<path class="m" d="M1995 525 C1980 505 1940 500 1915 515 C1900 525 1895 540 1890 555 L1660 925 M2000 545 C1985 555 1960 545 1940 545 C1925 548 1920 560 1915 575 L1700 940"/>
<path class="m" d="M1655 920 L1605 1025 L1690 1085 L1745 980 Z M1690 945 L1640 1045 M1720 965 L1670 1065"/>
<path class="m" d="M1620 1040 L1570 1130 C1570 1160 1610 1175 1635 1160 L1680 1080 M1595 1110 C1600 1140 1625 1150 1640 1140"/>
<path class="t" d="M1540 1195 L1575 1185"/>
</g>
<path class="ld" d="M306 1403 L137 1554.5"/>
<text class="lb" x="109" y="1581.5" style="font-size:40px">7</text>
<!-- z_labels.svg -->
<!-- remaining labels -->
<text class="lb" x="69.5" y="790.5" style="font-size:40px">2</text>
<text class="lb" x="25.5" y="1389.5" style="font-size:40px">3</text>
<text class="lb" x="741.5" y="1402" style="font-size:40px">1</text>
<text class="lb" x="849.5" y="1551" style="font-size:40px">18.1</text>
<text x="832.5" y="1457.5" style="font-size:40px;letter-spacing:0.4px">Programmer</text>
<text x="1565.5" y="1501" style="font-size:40px">Controls support</text>
<text x="1275.5" y="1561.5" style="font-size:40px">Data badge</text>
<path class="ld" d="M555 1493.3 L796 1529.4"/>
<!-- screw -->
<g transform="translate(90.7 1677.7)">
<path class="m" d="M-12 -3 C-12 -10 -6 -14 0 -14 L10 -12 L14 -4 L13 8 L6 14 L-4 14 C-10 12 -12 6 -12 -3 Z"/>
<circle class="t" cx="0" cy="0" r="9"/>
<path class="m" d="M-5 0 L5 0 M0 -5 L0 5"/>
<path class="m" d="M13 -8 L18 -9 L18 6 L13 7"/>
<path class="m" d="M18 -7 L46 -11 C50 -10 50 -2 47 0 L18 5"/>
<path class="t" d="M23 -8 L24 4 M28 -9 L29 3 M33 -9.5 L34 2.5 M38 -10 L39 2 M43 -10.5 L44 1"/>
</g>
</svg>
</body></html>
